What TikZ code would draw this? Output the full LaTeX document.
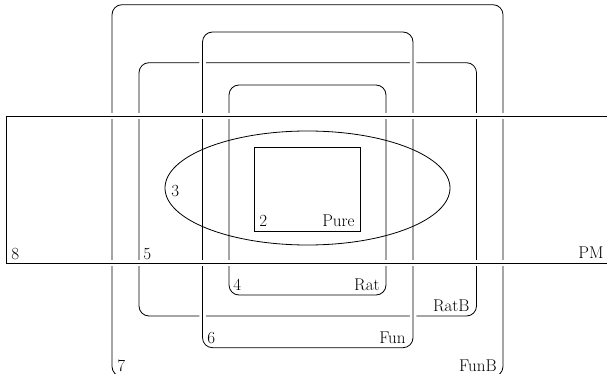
\documentclass[tikz,border=0pt]{standalone}
\begin{document}
\begin{tikzpicture}[x=1pt, y=-1pt, line width=0.8pt,
  box/.style={draw, rounded corners=10pt},
  halo/.style={preaction={draw=white, line width=6.5pt}},
  lbl/.style={inner sep=0pt, font=\fontsize{17}{20}\selectfont}]
\useasboundingbox (0,0) rectangle (607,374);

% nested rounded regions
\draw[box] (139,62.7) rectangle (476.5,316);
\draw[box] (229,85) rectangle (386,295);
\draw[box, halo] (202.5,32) rectangle (413,347.7);
\draw[box] (112,4.7) rectangle (503,376.5);

% the wide PM band, open to the right
\draw[halo] (6,116) rectangle (625,263);

% ellipse and inner square
\draw (307.5,188) ellipse [x radius=142.5, y radius=57];
\draw (254.5,147) rectangle (360,231.5);

% region labels
\node[lbl, anchor=base west] (l8) at (11,259) {8};
\node[lbl, anchor=base west] (l5) at (143,259) {5};
\node[lbl, anchor=base east] (lPM) at (604,258.5) {PM};
\node[lbl, anchor=base west] (l3) at (171,196.5) {3};
\node[lbl, anchor=base west] (l2) at (259,226) {2};
\node[lbl, anchor=base east] (lPure) at (355,226) {Pure};
\node[lbl, anchor=base west] (l4) at (233,290.7) {4};
\node[lbl, anchor=base east] (lRat) at (380,290.7) {Rat};
\node[lbl, anchor=base east] (lRatB) at (470,311.7) {RatB};
\node[lbl, anchor=base west] (l6) at (207,343.3) {6};
\node[lbl, anchor=base east] (lFun) at (406,343.3) {Fun};
\node[lbl, anchor=base west] (l7) at (117,371.5) {7};
\node[lbl, anchor=base east] (lFunB) at (497,371) {FunB};
\end{tikzpicture}
\end{document}
